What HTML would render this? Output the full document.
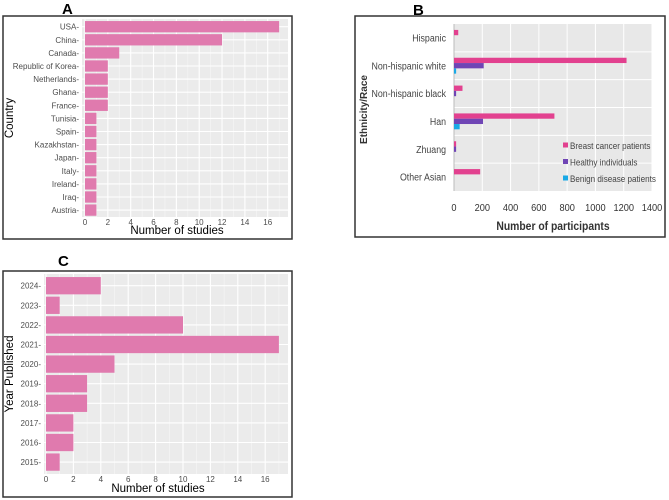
<!DOCTYPE html>
<html><head><meta charset="utf-8"><style>
body{margin:0;background:#fff;width:669px;height:500px;overflow:hidden}
svg{display:block;font-family:"Liberation Sans",sans-serif}
</style></head><body>
<svg id="s" width="669" height="500">
<text x="62" y="14" font-size="15" font-weight="bold">A</text>
<text x="413" y="15" font-size="15" font-weight="bold">B</text>
<text x="58" y="266" font-size="15" font-weight="bold">C</text>
<rect x="3" y="16" width="289" height="223" fill="none" stroke="#333" stroke-width="1.5"/>
<rect x="355" y="16" width="310" height="221" fill="none" stroke="#333" stroke-width="1.5"/>
<rect x="3" y="271" width="289" height="226" fill="none" stroke="#333" stroke-width="1.5"/>
<g id="ga"></g>
<g id="gb"></g>
<g id="gc"></g>
</svg>
<script>
const countries=["USA","China","Canada","Republic of Korea","Netherlands","Ghana","France","Tunisia","Spain","Kazakhstan","Japan","Italy","Ireland","Iraq","Austria"];
const countryStudies=[17,12,3,2,2,2,2,1,1,1,1,1,1,1,1];
const years=["2024","2023","2022","2021","2020","2019","2018","2017","2016","2015"];
const yearStudies=[4,1,10,17,5,3,3,2,2,1];
const studyTicks=[0,2,4,6,8,10,12,14,16];
const ethnicities=["Hispanic","Non-hispanic white","Non-hispanic black","Han","Zhuang","Other Asian"];
const breastCancer=[30,1220,60,710,15,185];
const healthy=[0,210,15,205,15,0];
const benign=[0,15,0,40,0,0];
const participantTicks=[0,200,400,600,800,1000,1200,1400];
const seriesNames=["Breast cancer patients","Healthy individuals","Benign disease patients"];
const NS="http://www.w3.org/2000/svg";
function mk(p,t,a,txt){const e=document.createElementNS(NS,t);for(const k in a)e.setAttribute(k,a[k]);if(txt!=null)e.textContent=txt;p.appendChild(e);return e;}

function gg(g,cats,vals,L,T,R,B,x0,pxu,c0,step,bh,xmax,tickY,titleY,ylab,yTitle,yTitleX,pfx){
  const bg=mk(g,'rect',{x:L,y:T,width:R-L,height:B-T,fill:'#ebebeb'});
  
  
  const X=v=>x0+v*pxu, Y=i=>c0+i*step;
  for(let v=1;v<=xmax;v+=2){mk(g,'line',{x1:X(v),x2:X(v),y1:T,y2:B,stroke:'#f6f6f6','stroke-width':0.6});}
  studyTicks.forEach(v=>{mk(g,'line',{x1:X(v),x2:X(v),y1:T,y2:B,stroke:'#fff','stroke-width':1.1});
    const t=mk(g,'text',{x:X(v),y:tickY,'font-size':8,fill:'#4d4d4d','text-anchor':'middle'},v);
    
    });
  cats.forEach((c,i)=>{mk(g,'line',{x1:L,x2:R,y1:Y(i),y2:Y(i),stroke:'#fff','stroke-width':1.1});
    const r=mk(g,'rect',{x:X(0),y:Y(i)-bh/2,width:X(vals[i])-X(0),height:bh,fill:'#e07aae'});
    
    
    const t=mk(g,'text',{x:L-3,y:Y(i)+3,'font-size':8,fill:'#4d4d4d','text-anchor':'end'},c+'-');
    
    });
  const xt=mk(g,'text',{x:(L+R)/2-8,y:titleY,'font-size':11.5,'text-anchor':'middle'},'Number of studies');
  
  
  const yt=mk(g,'text',{x:0,y:0,'font-size':11.5,'text-anchor':'middle',transform:`translate(${yTitleX},${(T+B)/2}) rotate(-90)`},yTitle);
  
  
}
gg(document.getElementById('ga'),countries,countryStudies,82,19,288,217,85,11.42,26.7,13.1,11.3,17,225,234,true,'Country',13,'a');
gg(document.getElementById('gc'),years,yearStudies,44,274,288,474,46,13.7,285.7,19.6,17.3,17,482,492,true,'Year Published',13,'c');

// Chart B
(function(){
  const g=document.getElementById('gb');
  const L=454,T=24,R=652,B=191;
  const X=v=>L+v*(R-L)/1400, step=(B-T)/6, C=i=>T+step*(i+0.5);
  const bg=mk(g,'rect',{x:L,y:T,width:R-L,height:B-T,fill:'#e8e8e8'});
  
  
  participantTicks.forEach(v=>{if(v>0)mk(g,'line',{x1:X(v),x2:X(v),y1:T,y2:B,stroke:'#fff','stroke-width':1});
    const t=mk(g,'text',{x:0,y:0,'font-size':10.5,fill:'#333','text-anchor':'middle',transform:`translate(${X(v)},211) scale(0.88,1)`},v);
    
    });
  for(let i=1;i<6;i++)mk(g,'line',{x1:L,x2:R,y1:T+step*i,y2:T+step*i,stroke:'#fff','stroke-width':1});
  mk(g,'line',{x1:L,x2:L,y1:T,y2:B,stroke:'#bbb','stroke-width':1});
  const series=[breastCancer,healthy,benign],cols=['#e2418f','#6f45b5','#19a9e6'],bh=5.3;
  ethnicities.forEach((e,i)=>{
    const t=mk(g,'text',{x:0,y:0,'font-size':10.5,fill:'#444','text-anchor':'end',transform:`translate(446,${C(i)+3.5}) scale(0.84,1)`},e);
    
    
    series.forEach((s,k)=>{if(s[i]<=0)return;
      const r=mk(g,'rect',{x:X(0),y:C(i)-8+k*bh,width:X(s[i])-X(0),height:bh,fill:cols[k]});
      
      });
  });
  seriesNames.forEach((n,k)=>{
    const y=146+k*16.5;
    const sw=mk(g,'rect',{x:563,y:y-3.5,width:5,height:5,fill:cols[k]});
    
    
    const t=mk(g,'text',{x:0,y:0,'font-size':9,fill:'#444',transform:`translate(570,${y+3}) scale(0.9,1)`},n);
    
    
  });
  const xt=mk(g,'text',{x:0,y:0,'font-size':11.5,'font-weight':'bold',fill:'#333','text-anchor':'middle',transform:`translate(${X(700)},230) scale(0.9,1)`},'Number of participants');
  
  
  const yt=mk(g,'text',{x:0,y:0,'font-size':10,'font-weight':'bold',fill:'#333','text-anchor':'middle',transform:`translate(367,${(T+B)/2+2}) rotate(-90)`},'Ethnicity/Race');
  
  
})();
</script>
</body></html>
